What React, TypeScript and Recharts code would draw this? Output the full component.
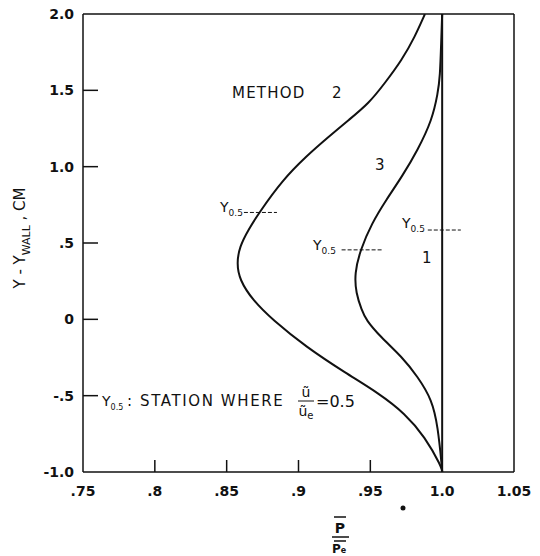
import React from 'react';
import {
  ComposedChart,
  Line,
  XAxis,
  YAxis,
  ReferenceLine,
} from 'recharts';

// pressure ratio vs distance from wall (cm)
const method2Y = [-1.0, -0.965, -0.769, -0.616, -0.485, -0.353, -0.179, -0.004, 0.127, 0.258, 0.367, 0.476, 0.585, 0.705, 0.913, 1.065, 1.196, 1.306, 1.415, 1.546, 1.699, 1.851, 2.0];
const method2X = [1.0, 0.9995, 0.988, 0.974, 0.956, 0.933, 0.905, 0.882, 0.868, 0.859, 0.857, 0.859, 0.865, 0.873, 0.889, 0.905, 0.921, 0.935, 0.949, 0.96, 0.972, 0.981, 0.988];

const method3Y = [-1.0, -0.965, -0.703, -0.528, -0.376, -0.245, -0.114, -0.004, 0.061, 0.171, 0.301, 0.454, 0.629, 0.782, 0.934, 1.109, 1.306, 1.481, 1.589, 1.81, 2.0];
const method3X = [1.0, 0.9998, 0.997, 0.993, 0.983, 0.972, 0.957, 0.947, 0.944, 0.94, 0.939, 0.943, 0.951, 0.961, 0.972, 0.983, 0.993, 0.997, 0.9985, 0.9993, 1.0];

const method1Y = [-1.0, 2.0];
const method1X = [1.0, 1.0];

// Y0.5 station markers: [y, x start, x end]
const stations = [
  [0.7, 0.862, 0.885],
  [0.455, 0.93, 0.958],
  [0.585, 0.99, 1.013],
];

const xTicks = [0.75, 0.8, 0.85, 0.9, 0.95, 1.0, 1.05];
const xTickLabels = ['.75', '.8', '.85', '.9', '.95', '1.0', '1.05'];
const yTicks = [-1.0, -0.5, 0, 0.5, 1.0, 1.5, 2.0];
const yTickLabels = ['-1.0', '-.5', '0', '.5', '1.0', '1.5', '2.0'];

const toPoints = (xs: number[], ys: number[]) => xs.map((x, i) => ({ x, y: ys[i] }));

const FONT = '"DejaVu Sans", sans-serif';
const INK = '#111';

const YTick = (props: any) => {
  const { x, y, payload } = props;
  const idx = yTicks.indexOf(payload.value);
  const inner = idx > 0 && idx < yTicks.length - 1;
  return (
    <g>
      {inner && <line x1={x} y1={y} x2={x + 15} y2={y} stroke={INK} strokeWidth={1.5} />}
      <text x={x - 9} y={y + 5} textAnchor="end" fontSize={14} fontWeight="bold" fill={INK} fontFamily={FONT}>
        {yTickLabels[idx]}
      </text>
    </g>
  );
};

const XTick = (props: any) => {
  const { x, y, payload } = props;
  const idx = xTicks.indexOf(payload.value);
  const inner = idx > 0 && idx < xTicks.length - 1;
  return (
    <g>
      {inner && <line x1={x} y1={y} x2={x} y2={y - 12} stroke={INK} strokeWidth={1.5} />}
      <text x={x} y={y + 24} textAnchor="middle" fontSize={14} fontWeight="bold" fill={INK} fontFamily={FONT}>
        {xTickLabels[idx]}
      </text>
    </g>
  );
};

const Y05 = ({ x, y }: { x: number; y: number }) => (
  <text x={x} y={y} fontSize={14} fill={INK} fontFamily={FONT}>
    Y<tspan fontSize={9} dy={4}>0.5</tspan>
  </text>
);

export default function App() {
  return (
    <div style={{ position: 'absolute', left: 0, top: 0, width: 540, height: 556, background: '#fff' }}>
      <ComposedChart width={540} height={556} margin={{ top: 14, right: 26, left: 0, bottom: 0 }}>
        <XAxis
          type="number"
          dataKey="x"
          domain={[0.75, 1.05]}
          ticks={xTicks}
          height={84}
          tickSize={0}
          tickMargin={0}
          tick={<XTick />}
          axisLine={{ stroke: INK, strokeWidth: 1.5 }}
          allowDataOverflow
        />
        <YAxis
          type="number"
          dataKey="y"
          domain={[-1, 2]}
          ticks={yTicks}
          width={83}
          tickSize={0}
          tickMargin={0}
          tick={<YTick />}
          axisLine={{ stroke: INK, strokeWidth: 1.5 }}
          allowDataOverflow
        />
        <ReferenceLine y={2.0} stroke={INK} strokeWidth={1.5} />
        <ReferenceLine x={1.05} stroke={INK} strokeWidth={1.5} />
        {stations.map(([y, x1, x2], i) => (
          <ReferenceLine
            key={i}
            segment={[{ x: x1, y }, { x: x2, y }]}
            stroke={INK}
            strokeWidth={1}
            strokeDasharray="4 2"
            ifOverflow="visible"
          />
        ))}
        <Line data={toPoints(method1X, method1Y)} dataKey="y" type="linear" stroke={INK} strokeWidth={2} dot={false} isAnimationActive={false} />
        <Line data={toPoints(method2X, method2Y)} dataKey="y" type="basis" stroke={INK} strokeWidth={2} dot={false} isAnimationActive={false} />
        <Line data={toPoints(method3X, method3Y)} dataKey="y" type="basis" stroke={INK} strokeWidth={2} dot={false} isAnimationActive={false} />
      </ComposedChart>
      <svg width={540} height={556} style={{ position: 'absolute', left: 0, top: 0, pointerEvents: 'none' }}>
        <text x={232} y={98} fontSize={15} fill={INK} fontFamily={FONT} letterSpacing={1.2}>METHOD</text>
        <text x={332} y={98} fontSize={15} fill={INK} fontFamily={FONT}>2</text>
        <text x={375} y={170} fontSize={15} fill={INK} fontFamily={FONT}>3</text>
        <text x={422} y={263} fontSize={15} fill={INK} fontFamily={FONT}>1</text>
        <Y05 x={220} y={212} />
        <Y05 x={313} y={250} />
        <Y05 x={402} y={228} />
        <text x={102} y={406} fontSize={14} fill={INK} fontFamily={FONT}>
          Y<tspan fontSize={8} dy={4}>0.5</tspan>
        </text>
        <text x={127} y={406} fontSize={15} fill={INK} fontFamily={FONT} letterSpacing={1.6}>
          : STATION WHERE
        </text>
        <text x={306} y={397} fontSize={14} fill={INK} fontFamily={FONT} textAnchor="middle">ũ</text>
        <line x1={298} y1={401} x2={314} y2={401} stroke={INK} strokeWidth={1} />
        <text x={306} y={416} fontSize={14} fill={INK} fontFamily={FONT} textAnchor="middle">
          ũ<tspan fontSize={10} dy={3}>e</tspan>
        </text>
        <text x={316} y={407} fontSize={16} fill={INK} fontFamily={FONT}>=0.5</text>
        <text x={25} y={238} fontSize={15} fill={INK} fontFamily={FONT} textAnchor="middle" transform="rotate(-90, 25, 238)">
          Y - Y<tspan fontSize={11} dy={5}>WALL</tspan>
          <tspan dy={-5}>{' ,  CM'}</tspan>
        </text>
        <circle cx={403} cy={508} r={2.5} fill={INK} />
        <line x1={334} y1={517} x2={346} y2={517} stroke={INK} strokeWidth={1.5} />
        <text x={340} y={533} fontSize={14} fontWeight="bold" fill={INK} fontFamily={FONT} textAnchor="middle">P</text>
        <line x1={332} y1={537} x2={349} y2={537} stroke={INK} strokeWidth={1.5} />
        <line x1={334} y1={541} x2={346} y2={541} stroke={INK} strokeWidth={1.5} />
        <text x={339} y={553} fontSize={12} fontWeight="bold" fill={INK} fontFamily={FONT} textAnchor="middle">
          P<tspan fontSize={8}>e</tspan>
        </text>
      </svg>
    </div>
  );
}
